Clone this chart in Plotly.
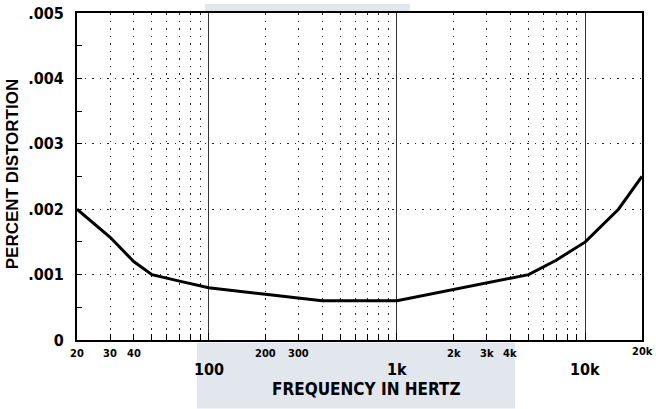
import math
import plotly.graph_objects as go

# ---- data ----
freq_hz = [20, 30, 40, 50, 70, 100, 200, 400, 1000, 2000, 5000, 7000, 10000, 15000, 20000]
distortion_pct = [0.002, 0.00157, 0.0012, 0.001, 0.0009, 0.0008, 0.0007, 0.0006, 0.0006,
                  0.00077, 0.001, 0.00122, 0.0015, 0.002, 0.0025]

y_tick_vals = [0, 0.001, 0.002, 0.003, 0.004, 0.005]
y_tick_text = ["0", ".001", ".002", ".003", ".004", ".005"]

x_major_vals = [100, 1000, 10000]
x_major_text = ["100", "1k", "10k"]
x_small_vals = [20, 30, 40, 200, 300, 2000, 3000, 4000, 20000]
x_small_text = ["20", "30", "40", "200", "300", "2k", "3k", "4k", "20k"]
x_minor_grid = [30, 40, 50, 60, 70, 80, 90,
                200, 300, 400, 500, 600, 700, 800, 900,
                2000, 3000, 4000, 5000, 6000, 7000, 8000, 9000]

x_title = "FREQUENCY IN HERTZ"
y_title = "PERCENT DISTORTION"

NARROW = "DejaVu Sans Condensed, Liberation Sans Narrow, Arial Narrow, Liberation Sans, Arial, sans-serif"
WIDE = "Liberation Sans, Arial, sans-serif"

PLOT_L, PLOT_T, PLOT_W, PLOT_H = 77, 13, 565, 327.5

fig = go.Figure()
fig.add_trace(go.Scatter(
    x=freq_hz, y=distortion_pct, mode="lines",
    line=dict(color="black", width=3), hoverinfo="skip", showlegend=False))

def px_x(p):
    return (p - PLOT_L) / PLOT_W

def px_y(p):
    return (PLOT_T + PLOT_H - p) / PLOT_H

# halftone background patches (scan artifact)
fig.add_shape(type="rect", xref="paper", yref="paper",
              x0=px_x(197), x1=px_x(515), y0=px_y(409), y1=px_y(343),
              fillcolor="rgba(185,195,212,0.42)", line=dict(width=0), layer="below")
fig.add_shape(type="rect", xref="paper", yref="paper",
              x0=px_x(205), x1=px_x(410), y0=px_y(13), y1=px_y(4),
              fillcolor="rgba(185,195,212,0.42)", line=dict(width=0), layer="below")

# x tick labels (two rows)
for v, t in zip(x_small_vals, x_small_text):
    fig.add_annotation(x=math.log10(v), y=px_y(354.5 if v != 20000 else 352), xref="x", yref="paper",
                       text=t, showarrow=False, yanchor="middle",
                       font=dict(family=NARROW, size=11, color="black", weight="bold"))
for v, t in zip(x_major_vals, x_major_text):
    fig.add_annotation(x=math.log10(v), y=px_y(370.5), xref="x", yref="paper",
                       text=t, showarrow=False, yanchor="middle",
                       font=dict(family=NARROW, size=16, color="black", weight="bold"))

fig.add_annotation(x=px_x(366), y=px_y(389.5), xref="paper", yref="paper",
                   text=x_title, showarrow=False, yanchor="middle", xanchor="center",
                   font=dict(family=NARROW, size=17, color="black", weight="bold"))
fig.add_annotation(x=px_x(12.5), y=px_y(175), xref="paper", yref="paper",
                   text=y_title, showarrow=False, textangle=-90,
                   xanchor="center", yanchor="middle",
                   font=dict(family=WIDE, size=17, color="black", weight="bold"))

fig.update_xaxes(
    type="log", range=[math.log10(20), math.log10(20000)],
    tickvals=x_major_vals, showticklabels=False,
    showgrid=True, gridcolor="#333", gridwidth=1,
    ticks="inside", ticklen=7, tickcolor="black",
    minor=dict(tickvals=x_minor_grid, showgrid=True, gridcolor="#222",
               griddash="1.5px,6px", gridwidth=1.3,
               ticks="inside", ticklen=6, tickcolor="black"),
    showline=True, linecolor="black", linewidth=2, mirror=True,
    zeroline=False, automargin=False)

fig.update_yaxes(
    range=[0, 0.005], tickvals=y_tick_vals, ticktext=y_tick_text,
    tickfont=dict(family=NARROW, size=16, color="black", weight="bold"),
    showgrid=True, gridcolor="#222", griddash="1.5px,6px", gridwidth=1.3,
    ticks="inside", ticklen=5, tickcolor="black",
    minor=dict(dtick=0.0005, ticks="inside", ticklen=5, tickcolor="black", showgrid=False),
    ticklabelstandoff=8,
    showline=True, linecolor="black", linewidth=2, mirror=True,
    zeroline=False, automargin=False)

fig.update_layout(
    width=656, height=409,
    margin=dict(l=PLOT_L, r=656 - PLOT_L - PLOT_W, t=PLOT_T, b=409 - PLOT_T - PLOT_H, pad=0),
    paper_bgcolor="white", plot_bgcolor="white",
    showlegend=False)

fig.write_html("out.html", config={"displayModeBar": False},
               post_script="document.body.style.margin='0';document.body.style.overflow='hidden';")
